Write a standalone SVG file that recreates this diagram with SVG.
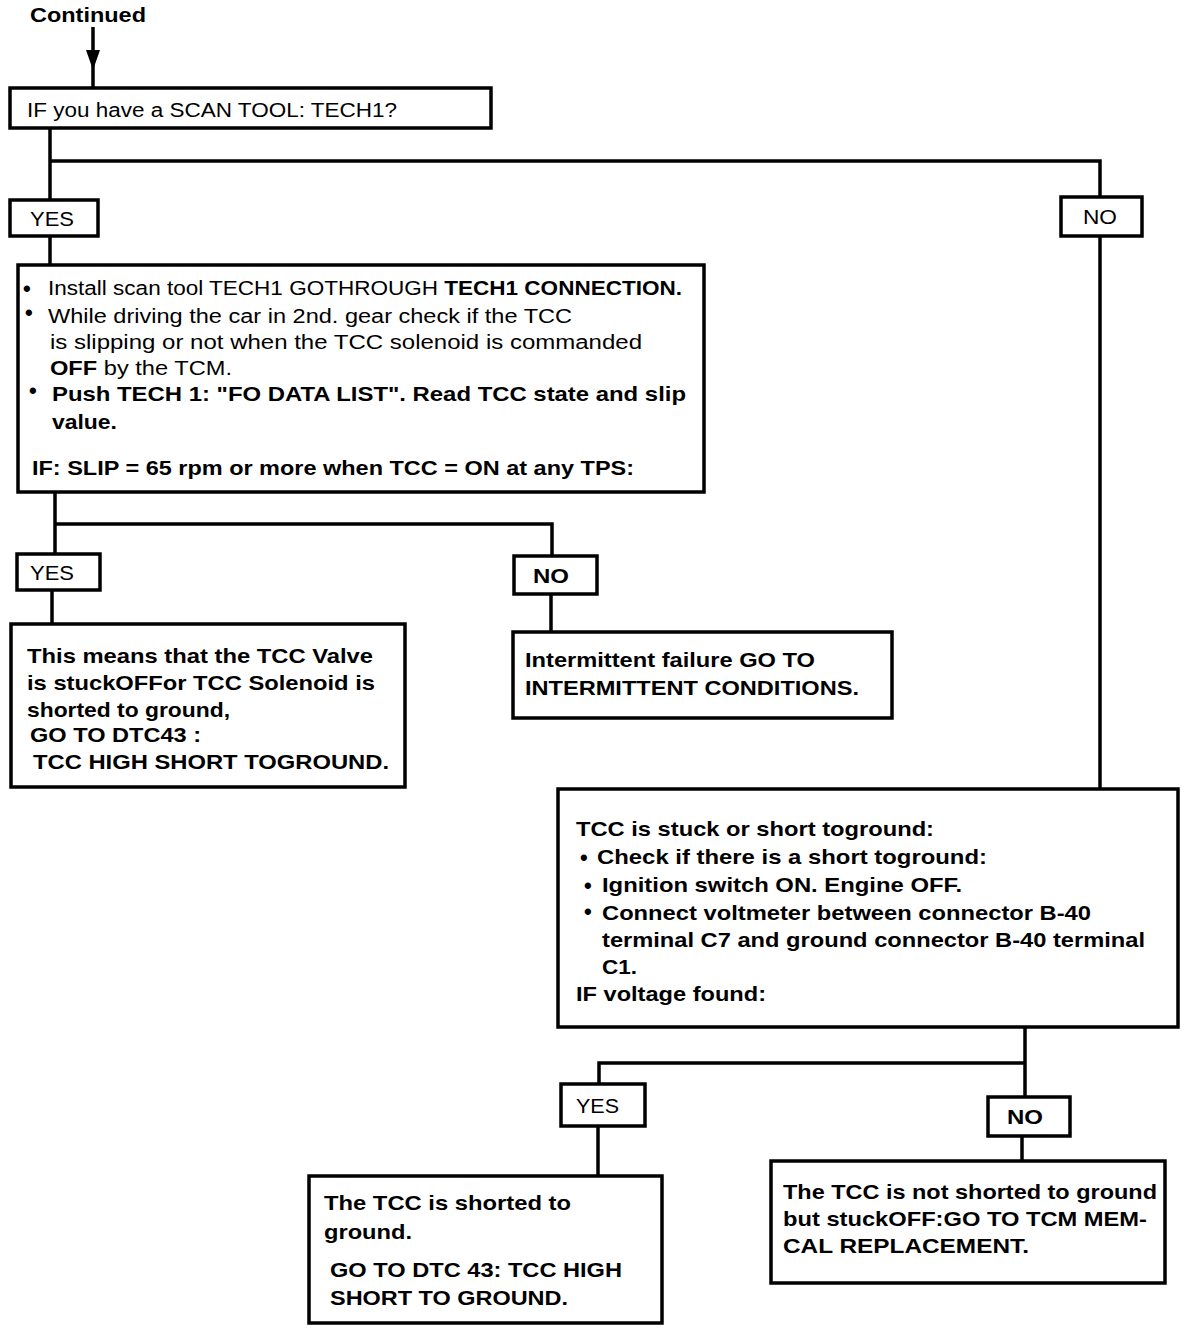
<svg xmlns="http://www.w3.org/2000/svg" width="1200" height="1330" viewBox="0 0 1200 1330">
<defs>
<style>
.box{fill:#fff;stroke:#000;stroke-width:3.5}
.ln{fill:none;stroke:#000;stroke-width:3.5}
text{font-family:"Liberation Sans",Arial,sans-serif;fill:#000}
.r{font-size:20px}
.b{font-size:21px;font-weight:bold}
.bb{font-weight:bold}
.bl{font-size:22px;font-weight:bold}
</style>
</defs>
<rect width="1200" height="1330" fill="#fff"/>

<g id="connectors">
<path class="ln" d="M93,27 V88"/>
<path d="M86,50 L100,50 L93,70 Z" fill="#000"/>
<path class="ln" d="M50,128 V200 M50,161 H1100 V197"/>
<path class="ln" d="M50,236 V265"/>
<path class="ln" d="M1100,236 V789"/>
<path class="ln" d="M55,492 V554 M55,524 H552 V556"/>
<path class="ln" d="M52,590 V624"/>
<path class="ln" d="M551,594 V632"/>
<path class="ln" d="M1025,1027 V1097 M1025,1063 H599 V1084"/>
<path class="ln" d="M598,1126 V1176"/>
<path class="ln" d="M1022,1136 V1161"/>
</g>

<g id="start">
<text x="30" y="22" class="b" font-size="20" textLength="116" lengthAdjust="spacingAndGlyphs">Continued</text>
</g>

<g id="q1">
<rect class="box" x="10" y="88" width="481" height="40"/>
<text x="27" y="117" class="r" textLength="370" lengthAdjust="spacingAndGlyphs">IF you have a SCAN TOOL: TECH1?</text>
</g>

<g id="yes1">
<rect class="box" x="10" y="200" width="88" height="36"/>
<text x="30" y="226" class="r" textLength="44" lengthAdjust="spacingAndGlyphs">YES</text>
</g>

<g id="no1">
<rect class="box" x="1061" y="197" width="81" height="39"/>
<text x="1083" y="224" class="r" textLength="34" lengthAdjust="spacingAndGlyphs">NO</text>
</g>

<g id="step1">
<rect class="box" x="18" y="265" width="686" height="227"/>
<text x="23" y="296" class="bl">•</text>
<text x="48" y="295" class="r" textLength="634" lengthAdjust="spacingAndGlyphs">Install scan tool TECH1 GOTHROUGH <tspan class="bb">TECH1 CONNECTION.</tspan></text>
<text x="25" y="320" class="bl" font-size="18">•</text>
<text x="48" y="323" class="r" textLength="524" lengthAdjust="spacingAndGlyphs">While driving the car in 2nd. gear check if the TCC</text>
<text x="50" y="349" class="r" textLength="592" lengthAdjust="spacingAndGlyphs">is slipping or not when the TCC solenoid is commanded</text>
<text x="50" y="375" class="r" textLength="182" lengthAdjust="spacingAndGlyphs"><tspan class="bb">OFF</tspan> by the TCM.</text>
<text x="29" y="398" class="bl" font-size="18">•</text>
<text x="52" y="401" class="b" textLength="634" lengthAdjust="spacingAndGlyphs">Push TECH 1: "FO DATA LIST". Read TCC state and slip</text>
<text x="52" y="429" class="b" textLength="65" lengthAdjust="spacingAndGlyphs">value.</text>
<text x="32" y="475" class="b" textLength="602" lengthAdjust="spacingAndGlyphs">IF: SLIP = 65 rpm or more when TCC = ON at any TPS:</text>
</g>

<g id="yes2">
<rect class="box" x="17" y="554" width="83" height="36"/>
<text x="30" y="580" class="r" textLength="44" lengthAdjust="spacingAndGlyphs">YES</text>
</g>

<g id="no2">
<rect class="box" x="514" y="556" width="83" height="38"/>
<text x="533" y="583" class="b" textLength="36" lengthAdjust="spacingAndGlyphs">NO</text>
</g>

<g id="result1">
<rect class="box" x="11" y="624" width="394" height="163"/>
<text x="27" y="663" class="b" textLength="346" lengthAdjust="spacingAndGlyphs">This means that the TCC Valve</text>
<text x="27" y="690" class="b" textLength="348" lengthAdjust="spacingAndGlyphs">is stuckOFFor TCC Solenoid is</text>
<text x="27" y="717" class="b" textLength="203" lengthAdjust="spacingAndGlyphs">shorted to ground,</text>
<text x="30" y="742" class="b" textLength="171" lengthAdjust="spacingAndGlyphs">GO TO DTC43 :</text>
<text x="33" y="769" class="b" textLength="356" lengthAdjust="spacingAndGlyphs">TCC HIGH SHORT TOGROUND.</text>
</g>

<g id="result2">
<rect class="box" x="513" y="632" width="379" height="86"/>
<text x="525" y="667" class="b" textLength="290" lengthAdjust="spacingAndGlyphs">Intermittent failure GO TO</text>
<text x="525" y="695" class="b" textLength="334" lengthAdjust="spacingAndGlyphs">INTERMITTENT CONDITIONS.</text>
</g>

<g id="step2">
<rect class="box" x="558" y="789" width="620" height="238"/>
<text x="576" y="836" class="b" textLength="358" lengthAdjust="spacingAndGlyphs">TCC is stuck or short toground:</text>
<text x="580" y="865" class="bl">•</text>
<text x="597" y="864" class="b" textLength="390" lengthAdjust="spacingAndGlyphs">Check if there is a short toground:</text>
<text x="584" y="893" class="bl">•</text>
<text x="602" y="892" class="b" textLength="360" lengthAdjust="spacingAndGlyphs">Ignition switch ON. Engine OFF.</text>
<text x="584" y="919" class="bl">•</text>
<text x="602" y="920" class="b" textLength="489" lengthAdjust="spacingAndGlyphs">Connect voltmeter between connector B-40</text>
<text x="602" y="947" class="b" textLength="543" lengthAdjust="spacingAndGlyphs">terminal C7 and ground connector B-40 terminal</text>
<text x="602" y="974" class="b" textLength="35" lengthAdjust="spacingAndGlyphs">C1.</text>
<text x="576" y="1001" class="b" textLength="190" lengthAdjust="spacingAndGlyphs">IF voltage found:</text>
</g>

<g id="yes3">
<rect class="box" x="561" y="1084" width="84" height="42"/>
<text x="576" y="1113" class="r" textLength="43" lengthAdjust="spacingAndGlyphs">YES</text>
</g>

<g id="no3">
<rect class="box" x="988" y="1097" width="82" height="39"/>
<text x="1007" y="1124" class="b" textLength="36" lengthAdjust="spacingAndGlyphs">NO</text>
</g>

<g id="result3">
<rect class="box" x="309" y="1176" width="353" height="147"/>
<text x="324" y="1210" class="b" textLength="247" lengthAdjust="spacingAndGlyphs">The TCC is shorted to</text>
<text x="324" y="1239" class="b" textLength="88" lengthAdjust="spacingAndGlyphs">ground.</text>
<text x="330" y="1277" class="b" textLength="292" lengthAdjust="spacingAndGlyphs">GO TO DTC 43: TCC HIGH</text>
<text x="330" y="1305" class="b" textLength="238" lengthAdjust="spacingAndGlyphs">SHORT TO GROUND.</text>
</g>

<g id="result4">
<rect class="box" x="771" y="1161" width="394" height="122"/>
<text x="783" y="1199" class="b" textLength="374" lengthAdjust="spacingAndGlyphs">The TCC is not shorted to ground</text>
<text x="783" y="1226" class="b" textLength="364" lengthAdjust="spacingAndGlyphs">but stuckOFF:GO TO TCM MEM-</text>
<text x="783" y="1253" class="b" textLength="246" lengthAdjust="spacingAndGlyphs">CAL REPLACEMENT.</text>
</g>
</svg>
